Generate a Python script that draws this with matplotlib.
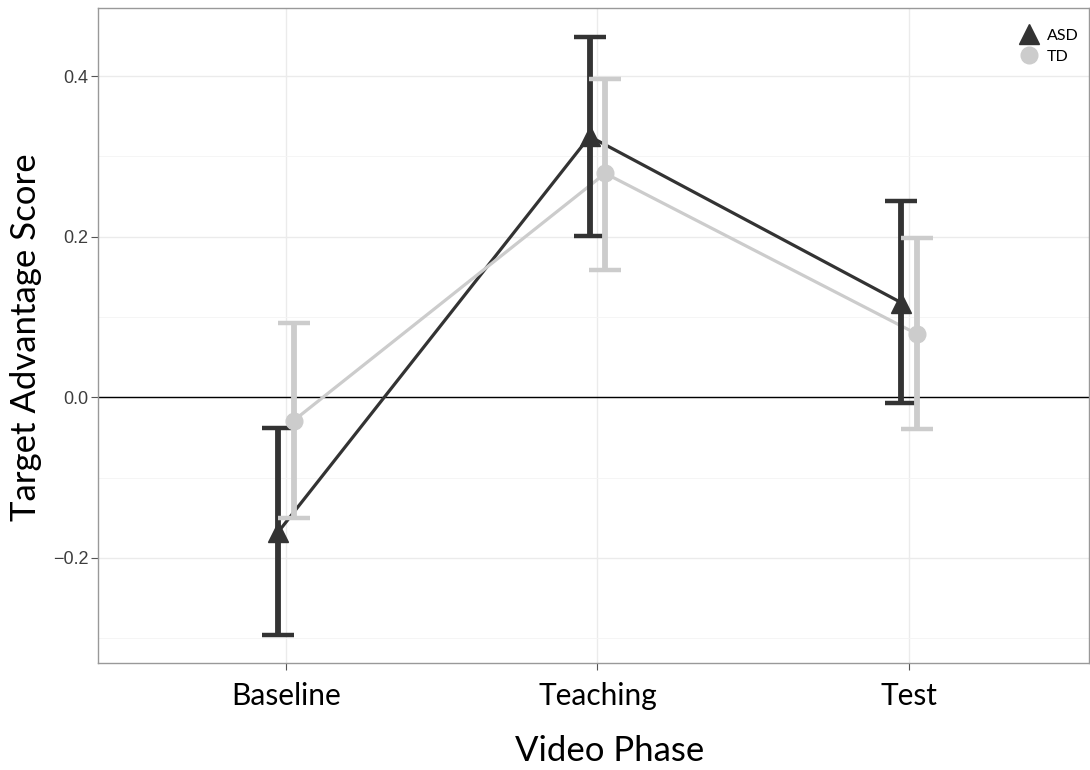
import matplotlib
matplotlib.use('Agg')
import matplotlib.pyplot as plt
from matplotlib.lines import Line2D
import numpy as np

phases = ['Baseline', 'Teaching', 'Test']
asd_mean = [-0.168, 0.325, 0.118]
asd_low = [-0.296, 0.201, -0.007]
asd_high = [-0.038, 0.449, 0.244]
td_mean = [-0.029, 0.279, 0.079]
td_low = [-0.150, 0.158, -0.040]
td_high = [0.093, 0.397, 0.199]

ASD_COL = '#333333'
TD_COL = '#cccccc'
label_font = 'Lato'

W, H = 1090, 770
fig = plt.figure(figsize=(W / 100, H / 100), dpi=100)
ax = fig.add_axes([98 / W, 107 / H, 991 / W, 655 / H])

x = np.arange(len(phases))
dodge = 0.025

groups = [
    ('ASD', x - dodge, asd_mean, asd_low, asd_high, ASD_COL, '^', 15),
    ('TD', x + dodge, td_mean, td_low, td_high, TD_COL, 'o', 12),
]
for name, xs, m, lo, hi, col, mk, ms in groups:
    m = np.array(m)
    err = [m - np.array(lo), np.array(hi) - m]
    ax.plot(xs, m, color=col, lw=2.3, zorder=3, solid_capstyle='butt')
    ax.errorbar(xs, m, yerr=err, fmt='none', ecolor=col, elinewidth=4.2,
                capsize=11.5, capthick=3.2, zorder=4)
    ax.plot(xs, m, ls='none', marker=mk, ms=ms, color=col, mec=col, zorder=5)

# reference line at zero
ax.axhline(0, color='black', lw=1.0, zorder=2)

ax.set_xlim(-0.603, 2.578)
ax.set_ylim(-0.331, 0.485)
ax.set_xticks(x)
ax.set_xticklabels(phases, fontsize=21.5, family=label_font)
ax.set_yticks([-0.2, 0.0, 0.2, 0.4])
ax.set_yticklabels(['\u22120.2', '0.0', '0.2', '0.4'], fontsize=13,
                   family='Liberation Sans', color='#3d3d3d')
ax.set_yticks([-0.3, -0.1, 0.1, 0.3], minor=True)
ax.tick_params(axis='both', which='major', length=5, color='#555555', width=0.8)
ax.tick_params(axis='x', pad=9)
ax.tick_params(axis='y', pad=2)
ax.tick_params(axis='y', which='minor', length=0)

ax.grid(True, which='major', color='#ebebeb', lw=1.0, zorder=0)
ax.grid(True, which='minor', axis='y', color='#f4f4f4', lw=0.6, zorder=0)
ax.set_axisbelow(True)
for s in ax.spines.values():
    s.set_color('#999999')
    s.set_linewidth(1.0)

fig.text(610 / W, 1 - 751 / H, 'Video Phase', fontsize=25, family=label_font,
         ha='center', va='center')
fig.text(26 / W, 1 - 337 / H, 'Target Advantage Score', fontsize=25,
         family=label_font, rotation=90, ha='center', va='center')

handles = [
    Line2D([], [], ls='none', marker='^', ms=14, color=ASD_COL, label='ASD'),
    Line2D([], [], ls='none', marker='o', ms=12, color=TD_COL, label='TD'),
]
ax.legend(handles=handles, loc='upper right', frameon=False, fontsize=11.5,
          prop={'family': label_font, 'size': 11.5},
          handlelength=1.2, handletextpad=0.5, labelspacing=0.45,
          borderaxespad=0.0, bbox_to_anchor=(1085 / 991 - 98 / 991, 1 - 14 / 655))

fig.savefig('out.png', dpi=100)
